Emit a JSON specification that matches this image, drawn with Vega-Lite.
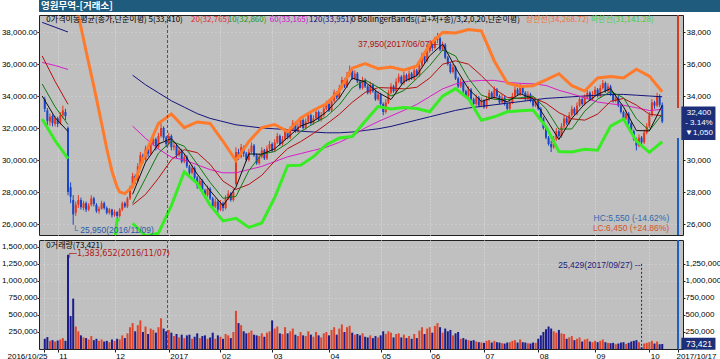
{
"$schema": "https://vega.github.io/schema/vega-lite/v6.json",
"padding": 0,
"background": "#ffffff",
"spacing": 1,
"config": {"view": {"stroke": null}, "font": "Liberation Sans", "axis": {"labelFont": "Liberation Sans", "labelColor": "#000000", "domainColor": "#202020", "tickColor": "#202020"}},
"datasets": {
"c": [
{"i":0,"o":33800,"h":33950,"l":33000,"c":33200,"v":150000},
{"i":1,"o":33100,"h":33250,"l":32200,"c":32450,"v":175000},
{"i":2,"o":32400,"h":32900,"l":32150,"c":32700,"v":120000},
{"i":3,"o":32750,"h":32850,"l":32100,"c":32300,"v":130000},
{"i":4,"o":32250,"h":32750,"l":32100,"c":32600,"v":110000},
{"i":5,"o":32600,"h":32700,"l":32050,"c":32250,"v":125000},
{"i":6,"o":32300,"h":33000,"l":32200,"c":32800,"v":140000},
{"i":7,"o":32800,"h":33400,"l":32600,"c":33100,"v":160000},
{"i":8,"o":33000,"h":33200,"l":32500,"c":32750,"v":120000},
{"i":9,"o":32000,"h":32100,"l":27800,"c":28000,"v":1383652},
{"i":10,"o":28300,"h":28600,"l":27300,"c":27700,"v":485000},
{"i":11,"o":27500,"h":27800,"l":25950,"c":26600,"v":740000},
{"i":12,"o":26700,"h":27400,"l":26500,"c":27200,"v":330000},
{"i":13,"o":27200,"h":27800,"l":27000,"c":27500,"v":260000},
{"i":14,"o":27500,"h":27650,"l":26900,"c":27050,"v":200000},
{"i":15,"o":27000,"h":27450,"l":26850,"c":27300,"v":170000},
{"i":16,"o":27300,"h":27400,"l":26750,"c":26900,"v":160000},
{"i":17,"o":26900,"h":27300,"l":26800,"c":27150,"v":140000},
{"i":18,"o":27200,"h":27800,"l":27100,"c":27600,"v":190000},
{"i":19,"o":27600,"h":27700,"l":27100,"c":27250,"v":130000},
{"i":20,"o":27200,"h":27300,"l":26700,"c":26800,"v":150000},
{"i":21,"o":26800,"h":27100,"l":26650,"c":26950,"v":120000},
{"i":22,"o":26950,"h":27450,"l":26900,"c":27300,"v":140000},
{"i":23,"o":27300,"h":27400,"l":26900,"c":27000,"v":110000},
{"i":24,"o":27000,"h":27100,"l":26600,"c":26700,"v":120000},
{"i":25,"o":26700,"h":27000,"l":26600,"c":26900,"v":100000},
{"i":26,"o":26900,"h":26950,"l":26400,"c":26550,"v":140000},
{"i":27,"o":26550,"h":26900,"l":26450,"c":26750,"v":120000},
{"i":28,"o":26750,"h":26800,"l":26250,"c":26500,"v":150000},
{"i":29,"o":26500,"h":27000,"l":26400,"c":26900,"v":140000},
{"i":30,"o":26900,"h":27400,"l":26800,"c":27300,"v":200000},
{"i":31,"o":27300,"h":27400,"l":27000,"c":27100,"v":160000},
{"i":32,"o":27100,"h":27700,"l":27000,"c":27600,"v":230000},
{"i":33,"o":27600,"h":28400,"l":27500,"c":28300,"v":320000},
{"i":34,"o":28300,"h":29200,"l":28200,"c":29000,"v":380000},
{"i":35,"o":29000,"h":29100,"l":28500,"c":28700,"v":260000},
{"i":36,"o":28700,"h":29800,"l":28600,"c":29600,"v":350000},
{"i":37,"o":29600,"h":30500,"l":29500,"c":30300,"v":420000},
{"i":38,"o":30300,"h":30400,"l":29800,"c":30000,"v":250000},
{"i":39,"o":30000,"h":30900,"l":29900,"c":30700,"v":330000},
{"i":40,"o":30700,"h":30800,"l":30200,"c":30400,"v":220000},
{"i":41,"o":30400,"h":31200,"l":30300,"c":31000,"v":300000},
{"i":42,"o":31000,"h":31500,"l":30900,"c":31300,"v":280000},
{"i":43,"o":31300,"h":31400,"l":30600,"c":30800,"v":240000},
{"i":44,"o":30800,"h":31700,"l":30700,"c":31500,"v":320000},
{"i":45,"o":31500,"h":32300,"l":31400,"c":32000,"v":450000},
{"i":46,"o":32000,"h":32100,"l":31200,"c":31400,"v":300000},
{"i":47,"o":31400,"h":31500,"l":30800,"c":31000,"v":260000},
{"i":48,"o":31000,"h":31700,"l":30900,"c":31500,"v":280000},
{"i":49,"o":31500,"h":31600,"l":30600,"c":30800,"v":240000},
{"i":50,"o":30800,"h":31100,"l":30600,"c":30900,"v":190000},
{"i":51,"o":30900,"h":31000,"l":30100,"c":30300,"v":220000},
{"i":52,"o":30300,"h":30800,"l":30200,"c":30600,"v":170000},
{"i":53,"o":30600,"h":30700,"l":29800,"c":29900,"v":210000},
{"i":54,"o":29900,"h":30400,"l":29800,"c":30200,"v":160000},
{"i":55,"o":30200,"h":30300,"l":29500,"c":29600,"v":200000},
{"i":56,"o":29600,"h":29700,"l":29000,"c":29200,"v":210000},
{"i":57,"o":29200,"h":29700,"l":29100,"c":29500,"v":150000},
{"i":58,"o":29500,"h":29600,"l":28800,"c":28900,"v":180000},
{"i":59,"o":28900,"h":29000,"l":28200,"c":28400,"v":230000},
{"i":60,"o":28400,"h":28900,"l":28300,"c":28700,"v":160000},
{"i":61,"o":28700,"h":28800,"l":28000,"c":28100,"v":190000},
{"i":62,"o":28100,"h":28200,"l":27600,"c":27800,"v":200000},
{"i":63,"o":27800,"h":28400,"l":27700,"c":28200,"v":150000},
{"i":64,"o":28200,"h":28300,"l":27500,"c":27600,"v":170000},
{"i":65,"o":27600,"h":27700,"l":26900,"c":27100,"v":240000},
{"i":66,"o":27100,"h":27600,"l":27000,"c":27400,"v":150000},
{"i":67,"o":27400,"h":27500,"l":26700,"c":26900,"v":200000},
{"i":68,"o":26900,"h":27500,"l":26800,"c":27300,"v":180000},
{"i":69,"o":27300,"h":27400,"l":26800,"c":27000,"v":150000},
{"i":70,"o":27000,"h":27800,"l":26900,"c":27600,"v":220000},
{"i":71,"o":27600,"h":28100,"l":27500,"c":27900,"v":200000},
{"i":72,"o":27900,"h":28000,"l":27400,"c":27500,"v":160000},
{"i":73,"o":27500,"h":28200,"l":27400,"c":28000,"v":250000},
{"i":74,"o":28500,"h":30800,"l":28400,"c":30500,"v":560000},
{"i":75,"o":30500,"h":30700,"l":30000,"c":30200,"v":380000},
{"i":76,"o":30200,"h":31000,"l":30100,"c":30800,"v":350000},
{"i":77,"o":30800,"h":30900,"l":30200,"c":30400,"v":260000},
{"i":78,"o":30400,"h":30500,"l":29900,"c":30000,"v":230000},
{"i":79,"o":30000,"h":30700,"l":29900,"c":30500,"v":240000},
{"i":80,"o":30500,"h":31100,"l":30400,"c":30900,"v":270000},
{"i":81,"o":30900,"h":31000,"l":30200,"c":30300,"v":210000},
{"i":82,"o":30300,"h":30400,"l":29700,"c":29800,"v":200000},
{"i":83,"o":29800,"h":30400,"l":29700,"c":30200,"v":190000},
{"i":84,"o":30200,"h":30800,"l":30100,"c":30600,"v":230000},
{"i":85,"o":30600,"h":30700,"l":30000,"c":30100,"v":180000},
{"i":86,"o":30100,"h":30900,"l":30000,"c":30700,"v":240000},
{"i":87,"o":30700,"h":31200,"l":30600,"c":31000,"v":260000},
{"i":88,"o":31000,"h":31100,"l":30500,"c":30600,"v":420000},
{"i":89,"o":30600,"h":31300,"l":30500,"c":31100,"v":300000},
{"i":90,"o":31100,"h":31700,"l":31000,"c":31500,"v":330000},
{"i":91,"o":31500,"h":31600,"l":30900,"c":31000,"v":230000},
{"i":92,"o":31000,"h":31500,"l":30900,"c":31300,"v":220000},
{"i":93,"o":31300,"h":32000,"l":31200,"c":31800,"v":320000},
{"i":94,"o":31800,"h":31900,"l":31300,"c":31400,"v":230000},
{"i":95,"o":31400,"h":32100,"l":31300,"c":31900,"v":260000},
{"i":96,"o":31900,"h":32500,"l":31800,"c":32300,"v":300000},
{"i":97,"o":32300,"h":32400,"l":31700,"c":31800,"v":210000},
{"i":98,"o":31800,"h":32300,"l":31700,"c":32100,"v":190000},
{"i":99,"o":32100,"h":32700,"l":32000,"c":32500,"v":250000},
{"i":100,"o":32500,"h":32600,"l":31900,"c":32000,"v":200000},
{"i":101,"o":32000,"h":32600,"l":31900,"c":32400,"v":190000},
{"i":102,"o":32400,"h":33000,"l":32300,"c":32800,"v":260000},
{"i":103,"o":32800,"h":32900,"l":32200,"c":32300,"v":210000},
{"i":104,"o":32300,"h":32800,"l":32200,"c":32600,"v":180000},
{"i":105,"o":32600,"h":33200,"l":32500,"c":33000,"v":250000},
{"i":106,"o":33000,"h":33100,"l":32400,"c":32500,"v":200000},
{"i":107,"o":32500,"h":33000,"l":32400,"c":32800,"v":170000},
{"i":108,"o":32800,"h":33400,"l":32700,"c":33200,"v":230000},
{"i":109,"o":33200,"h":33700,"l":33100,"c":33500,"v":250000},
{"i":110,"o":33500,"h":33600,"l":33000,"c":33100,"v":200000},
{"i":111,"o":33100,"h":33900,"l":33000,"c":33700,"v":280000},
{"i":112,"o":33700,"h":34400,"l":33600,"c":34200,"v":320000},
{"i":113,"o":34200,"h":34300,"l":33800,"c":33900,"v":210000},
{"i":114,"o":33900,"h":34700,"l":33800,"c":34500,"v":300000},
{"i":115,"o":34500,"h":35200,"l":34400,"c":35000,"v":360000},
{"i":116,"o":35000,"h":35100,"l":34500,"c":34600,"v":250000},
{"i":117,"o":34600,"h":35500,"l":34500,"c":35300,"v":320000},
{"i":118,"o":35300,"h":35900,"l":35200,"c":35600,"v":340000},
{"i":119,"o":35600,"h":35700,"l":35000,"c":35100,"v":240000},
{"i":120,"o":35100,"h":35600,"l":35000,"c":35400,"v":210000},
{"i":121,"o":35400,"h":35500,"l":34800,"c":34900,"v":220000},
{"i":122,"o":34900,"h":35000,"l":34400,"c":34500,"v":200000},
{"i":123,"o":34500,"h":35200,"l":34400,"c":35000,"v":230000},
{"i":124,"o":35000,"h":35100,"l":34500,"c":34600,"v":180000},
{"i":125,"o":34600,"h":34700,"l":34100,"c":34200,"v":170000},
{"i":126,"o":34200,"h":34900,"l":34100,"c":34700,"v":200000},
{"i":127,"o":34700,"h":34800,"l":34200,"c":34300,"v":160000},
{"i":128,"o":34300,"h":34400,"l":33700,"c":33800,"v":190000},
{"i":129,"o":33800,"h":34300,"l":33700,"c":34100,"v":170000},
{"i":130,"o":34100,"h":34200,"l":33400,"c":33500,"v":200000},
{"i":131,"o":33500,"h":33600,"l":32800,"c":33000,"v":260000},
{"i":132,"o":33000,"h":33800,"l":32900,"c":33600,"v":220000},
{"i":133,"o":33600,"h":34400,"l":33500,"c":34200,"v":260000},
{"i":134,"o":34200,"h":34800,"l":34100,"c":34600,"v":240000},
{"i":135,"o":34600,"h":34700,"l":34200,"c":34300,"v":170000},
{"i":136,"o":34300,"h":35100,"l":34200,"c":34900,"v":220000},
{"i":137,"o":34900,"h":35400,"l":34800,"c":35200,"v":230000},
{"i":138,"o":35200,"h":35300,"l":34700,"c":34800,"v":170000},
{"i":139,"o":34800,"h":35500,"l":34700,"c":35300,"v":210000},
{"i":140,"o":35300,"h":35400,"l":34900,"c":35000,"v":160000},
{"i":141,"o":35000,"h":35600,"l":34900,"c":35400,"v":190000},
{"i":142,"o":35400,"h":35500,"l":35000,"c":35100,"v":150000},
{"i":143,"o":35100,"h":35800,"l":35000,"c":35600,"v":220000},
{"i":144,"o":35600,"h":35700,"l":35200,"c":35300,"v":160000},
{"i":145,"o":35300,"h":36100,"l":35200,"c":35900,"v":270000},
{"i":146,"o":35900,"h":36700,"l":35800,"c":36500,"v":320000},
{"i":147,"o":36500,"h":36600,"l":36000,"c":36200,"v":220000},
{"i":148,"o":36200,"h":37000,"l":36100,"c":36800,"v":300000},
{"i":149,"o":36800,"h":37400,"l":36700,"c":37200,"v":320000},
{"i":150,"o":37200,"h":37300,"l":36800,"c":37000,"v":240000},
{"i":151,"o":37000,"h":37700,"l":36900,"c":37500,"v":340000},
{"i":152,"o":37500,"h":37950,"l":37300,"c":37600,"v":380000},
{"i":153,"o":37600,"h":37700,"l":36800,"c":36900,"v":320000},
{"i":154,"o":36900,"h":37400,"l":36800,"c":37200,"v":240000},
{"i":155,"o":37200,"h":37300,"l":36300,"c":36400,"v":300000},
{"i":156,"o":36400,"h":36500,"l":35900,"c":36000,"v":260000},
{"i":157,"o":36000,"h":36100,"l":35400,"c":35500,"v":280000},
{"i":158,"o":35500,"h":36000,"l":35400,"c":35800,"v":200000},
{"i":159,"o":35800,"h":35900,"l":35000,"c":35100,"v":230000},
{"i":160,"o":35100,"h":35200,"l":34500,"c":34600,"v":250000},
{"i":161,"o":34600,"h":35100,"l":34500,"c":34900,"v":150000},
{"i":162,"o":34900,"h":35000,"l":34200,"c":34300,"v":160000},
{"i":163,"o":34300,"h":34400,"l":33900,"c":34000,"v":140000},
{"i":164,"o":34000,"h":34600,"l":33900,"c":34400,"v":130000},
{"i":165,"o":34400,"h":34500,"l":33700,"c":33800,"v":120000},
{"i":166,"o":33800,"h":33900,"l":33400,"c":33500,"v":130000},
{"i":167,"o":33500,"h":34100,"l":33400,"c":33900,"v":110000},
{"i":168,"o":33900,"h":34000,"l":33300,"c":33400,"v":100000},
{"i":169,"o":33400,"h":33900,"l":33300,"c":33700,"v":95000},
{"i":170,"o":33700,"h":33800,"l":33200,"c":33300,"v":90000},
{"i":171,"o":33300,"h":34000,"l":33200,"c":33800,"v":120000},
{"i":172,"o":33800,"h":34400,"l":33700,"c":34200,"v":130000},
{"i":173,"o":34200,"h":34300,"l":33800,"c":33900,"v":95000},
{"i":174,"o":33900,"h":34600,"l":33800,"c":34400,"v":120000},
{"i":175,"o":34400,"h":34500,"l":33900,"c":34000,"v":100000},
{"i":176,"o":34000,"h":34100,"l":33500,"c":33600,"v":95000},
{"i":177,"o":33600,"h":34100,"l":33500,"c":33900,"v":85000},
{"i":178,"o":33900,"h":34000,"l":33400,"c":33500,"v":80000},
{"i":179,"o":33500,"h":33600,"l":33100,"c":33200,"v":95000},
{"i":180,"o":33200,"h":33800,"l":33100,"c":33600,"v":100000},
{"i":181,"o":33600,"h":34200,"l":33500,"c":34000,"v":120000},
{"i":182,"o":34000,"h":34600,"l":33900,"c":34400,"v":130000},
{"i":183,"o":34400,"h":34500,"l":34000,"c":34100,"v":95000},
{"i":184,"o":34100,"h":34800,"l":34000,"c":34600,"v":140000},
{"i":185,"o":34600,"h":34700,"l":34100,"c":34200,"v":100000},
{"i":186,"o":34200,"h":34300,"l":33700,"c":33800,"v":95000},
{"i":187,"o":33800,"h":34300,"l":33700,"c":34100,"v":85000},
{"i":188,"o":34100,"h":34200,"l":33600,"c":33700,"v":80000},
{"i":189,"o":33700,"h":33800,"l":33300,"c":33400,"v":95000},
{"i":190,"o":33400,"h":33900,"l":33300,"c":33700,"v":90000},
{"i":191,"o":33700,"h":33800,"l":33100,"c":33200,"v":150000},
{"i":192,"o":33200,"h":33300,"l":32500,"c":32600,"v":200000},
{"i":193,"o":32600,"h":32700,"l":31900,"c":32000,"v":250000},
{"i":194,"o":32000,"h":32100,"l":31300,"c":31400,"v":290000},
{"i":195,"o":31400,"h":31500,"l":30900,"c":31000,"v":330000},
{"i":196,"o":31000,"h":31200,"l":30500,"c":30800,"v":300000},
{"i":197,"o":30800,"h":31500,"l":30700,"c":31300,"v":260000},
{"i":198,"o":31300,"h":32000,"l":31200,"c":31800,"v":240000},
{"i":199,"o":31800,"h":31900,"l":31400,"c":31500,"v":280000},
{"i":200,"o":31500,"h":32300,"l":31400,"c":32100,"v":230000},
{"i":201,"o":32100,"h":32800,"l":32000,"c":32600,"v":220000},
{"i":202,"o":32600,"h":32700,"l":32200,"c":32300,"v":150000},
{"i":203,"o":32300,"h":33000,"l":32200,"c":32800,"v":170000},
{"i":204,"o":32800,"h":33400,"l":32700,"c":33200,"v":190000},
{"i":205,"o":33200,"h":33300,"l":32800,"c":32900,"v":130000},
{"i":206,"o":32900,"h":33600,"l":32800,"c":33400,"v":150000},
{"i":207,"o":33400,"h":34000,"l":33300,"c":33800,"v":170000},
{"i":208,"o":33800,"h":33900,"l":33400,"c":33500,"v":110000},
{"i":209,"o":33500,"h":34100,"l":33400,"c":33900,"v":140000},
{"i":210,"o":33900,"h":34400,"l":33800,"c":34200,"v":150000},
{"i":211,"o":34200,"h":34300,"l":33700,"c":33800,"v":110000},
{"i":212,"o":33800,"h":34300,"l":33700,"c":34100,"v":100000},
{"i":213,"o":34100,"h":34600,"l":34000,"c":34400,"v":120000},
{"i":214,"o":34400,"h":34500,"l":33900,"c":34000,"v":100000},
{"i":215,"o":34000,"h":34700,"l":33900,"c":34500,"v":120000},
{"i":216,"o":34500,"h":35000,"l":34400,"c":34800,"v":140000},
{"i":217,"o":34800,"h":34900,"l":34200,"c":34300,"v":100000},
{"i":218,"o":34300,"h":34800,"l":34200,"c":34600,"v":90000},
{"i":219,"o":34600,"h":34700,"l":34000,"c":34100,"v":85000},
{"i":220,"o":34100,"h":34200,"l":33600,"c":33700,"v":90000},
{"i":221,"o":33700,"h":34100,"l":33600,"c":33900,"v":70000},
{"i":222,"o":33900,"h":34000,"l":33300,"c":33400,"v":80000},
{"i":223,"o":33400,"h":33500,"l":32900,"c":33000,"v":95000},
{"i":224,"o":33000,"h":33100,"l":32500,"c":32600,"v":100000},
{"i":225,"o":32600,"h":33100,"l":32500,"c":32900,"v":75000},
{"i":226,"o":32900,"h":33000,"l":32200,"c":32300,"v":90000},
{"i":227,"o":32300,"h":32400,"l":31700,"c":31800,"v":110000},
{"i":228,"o":31800,"h":31900,"l":31200,"c":31300,"v":120000},
{"i":229,"o":31300,"h":31400,"l":30600,"c":30900,"v":130000},
{"i":230,"o":30900,"h":31600,"l":30800,"c":31400,"v":100000},
{"i":231,"o":31400,"h":31500,"l":31000,"c":31100,"v":25429},
{"i":232,"o":31100,"h":31900,"l":31000,"c":31700,"v":80000},
{"i":233,"o":31700,"h":32300,"l":31600,"c":32100,"v":90000},
{"i":234,"o":32100,"h":33000,"l":32000,"c":32800,"v":100000},
{"i":235,"o":32800,"h":33800,"l":32700,"c":33600,"v":120000},
{"i":236,"o":33600,"h":33700,"l":33200,"c":33400,"v":80000},
{"i":237,"o":33400,"h":34200,"l":33300,"c":34000,"v":110000},
{"i":238,"o":34000,"h":34100,"l":33300,"c":33450,"v":70000},
{"i":239,"o":33450,"h":33600,"l":32300,"c":32400,"v":73421}
],
"m": [
{"i":-1,"m5":34000,"m10":34750,"m20":36500,"m60":36100,"m120":38600,"bu":41500,"bl":32560},
{"i":4,"m5":32650,"m10":33325,"m20":34913,"m60":35904,"m120":38300,"bu":40800,"bl":31213},
{"i":9,"m5":31780,"m10":32215,"m20":33483,"m60":35661,"m120":38000,"bu":40000,"bl":30083},
{"i":13,"bu":39000},
{"i":14,"m5":27210,"m10":29495,"m20":31410,"m60":35053,"m120":37600,"bu":38300,"bl":25970},
{"i":16,"bu":36800},
{"i":19,"m5":27240,"m10":27225,"m20":29720,"m60":34448,"m120":37100,"bu":34600,"bl":24340},
{"i":22,"bu":32300},
{"i":24,"m5":26950,"m10":27095,"m20":28295,"m60":33778,"m120":36500,"bu":30700,"bl":23740},
{"i":25,"bu":30000,"bl":23850},
{"i":26,"bu":29300,"bl":24110},
{"i":27,"bu":28800,"bl":24840},
{"i":28,"bu":28300,"bl":26270},
{"i":29,"m5":26720,"m10":26835,"m20":27030,"m60":32963,"m120":35900,"bu":28000,"bl":26270},
{"i":31,"bu":27900},
{"i":34,"m5":27860,"m10":27290,"m20":27193,"m60":32118,"m120":35300,"bu":28340,"bl":26040},
{"i":39,"m5":29860,"m10":28860,"m20":27848,"m60":31356,"m120":34700,"bu":30440,"bl":25256},
{"i":44,"m5":31000,"m10":30430,"m20":28860,"m60":30689,"m120":34200,"bu":32290,"bl":25430},
{"i":49,"m5":31340,"m10":31170,"m20":30015,"m60":30176,"m120":33700,"bu":32880,"bl":27150},
{"i":54,"m5":30380,"m10":30860,"m20":30645,"m60":30000,"m120":33300,"bu":32025,"bl":29265},
{"i":59,"m5":29120,"m10":29750,"m20":30460,"m60":29700,"m120":32900,"bu":32378,"bl":28542},
{"i":64,"m5":28080,"m10":28600,"m20":29730,"m60":29400,"m120":32600,"bu":32284,"bl":27176},
{"i":69,"m5":27140,"m10":27610,"m20":28680,"m60":29200,"m120":32400,"bu":31170,"bl":26190},
{"i":74,"m5":28300,"m10":27720,"m20":28160,"m60":29200,"m120":32200,"bu":29960,"bl":26360},
{"i":79,"m5":30380,"m10":29340,"m20":28475,"m60":29400,"m120":32100,"bu":31160,"bl":25790},
{"i":84,"m5":30360,"m10":30370,"m20":29045,"m60":29600,"m120":32000,"bu":32030,"bl":26060},
{"i":89,"m5":30700,"m10":30530,"m20":29935,"m60":29900,"m120":31950,"bu":32215,"bl":27655},
{"i":94,"m5":31400,"m10":31050,"m20":30710,"m60":30200,"m120":31900,"bu":31770,"bl":29650},
{"i":99,"m5":32120,"m10":31760,"m20":31145,"m60":30400,"m120":31800,"bu":32615,"bl":29675},
{"i":104,"m5":32420,"m10":32270,"m20":31660,"m60":30600,"m120":31750,"bu":33110,"bl":30210},
{"i":109,"m5":33000,"m10":32710,"m20":32235,"m60":30800,"m120":31700,"bu":33515,"bl":30955},
{"i":114,"m5":33880,"m10":33440,"m20":32855,"m60":31100,"m120":31700,"bu":34340,"bl":31370},
{"i":119,"m5":35120,"m10":34500,"m20":33605,"m60":31500,"m120":31750,"bu":35740,"bl":31470},
{"i":124,"m5":34880,"m10":35000,"m20":34220,"m60":32000,"m120":31850,"bu":36020,"bl":32420},
{"i":129,"m5":34220,"m10":34550,"m20":34525,"m60":32400,"m120":31950,"bu":35705,"bl":33345},
{"i":134,"m5":33780,"m10":34000,"m20":34500,"m60":32750,"m120":32100,"bu":35810,"bl":33190},
{"i":139,"m5":34900,"m10":34340,"m20":34445,"m60":33100,"m120":32300,"bu":35615,"bl":33275},
{"i":144,"m5":35280,"m10":35090,"m20":34545,"m60":33475,"m120":32500,"bu":35875,"bl":33215},
{"i":149,"m5":36520,"m10":35900,"m20":35120,"m60":33960,"m120":32700,"bu":37226,"bl":33014},
{"i":154,"m5":37240,"m10":36880,"m20":35985,"m60":34447,"m120":32900,"bu":37975,"bl":33995},
{"i":159,"m5":35760,"m10":36500,"m20":36200,"m60":34750,"m120":33100,"bu":37940,"bl":34460},
{"i":164,"m5":34440,"m10":35100,"m20":35990,"m60":34918,"m120":33250,"bu":38155,"bl":33825},
{"i":169,"m5":33660,"m10":34050,"m20":35275,"m60":34973,"m120":33350,"bu":38067,"bl":32483},
{"i":174,"m5":33920,"m10":33790,"m20":34445,"m60":34977,"m120":33450,"bu":36190,"bl":32700},
{"i":179,"m5":33640,"m10":33780,"m20":33915,"m60":34853,"m120":33550,"bu":34815,"bl":33015},
{"i":184,"m5":34140,"m10":33890,"m20":33840,"m60":34792,"m120":33650,"bu":34600,"bl":33080},
{"i":189,"m5":33840,"m10":33990,"m20":33885,"m60":34760,"m120":33750,"bu":34645,"bl":33125},
{"i":194,"m5":32580,"m10":33210,"m20":33550,"m60":34660,"m120":33850,"bu":35005,"bl":32095},
{"i":199,"m5":31280,"m10":31930,"m20":32960,"m60":34358,"m120":33900,"bu":35395,"bl":30525},
{"i":204,"m5":32600,"m10":31940,"m20":32575,"m60":34135,"m120":33950,"bu":34645,"bl":30505},
{"i":209,"m5":33500,"m10":33050,"m20":32490,"m60":33883,"m120":34000,"bu":34310,"bl":30670},
{"i":214,"m5":34100,"m10":33800,"m20":32870,"m60":33622,"m120":34050,"bu":35130,"bl":30610},
{"i":219,"m5":34460,"m10":34280,"m20":33665,"m60":33513,"m120":34100,"bu":35215,"bl":32115},
{"i":224,"m5":33320,"m10":33890,"m20":33845,"m60":33420,"m120":34100,"bu":35125,"bl":32565},
{"i":229,"m5":31840,"m10":32580,"m20":33430,"m60":33268,"m120":34050,"bu":35674,"bl":31186},
{"i":234,"m5":31820,"m10":31830,"m20":32860,"m60":33093,"m120":34000,"bu":35244,"bl":30476},
{"i":239,"m5":33410,"m10":32860,"m20":32765,"m60":33165,"m120":33951,"bu":34269,"bl":31141}
]
},
"vconcat": [
{
"width": 720, "height": 12,
"view": {"fill": "#1f5b7d", "stroke": null},
"data": {"values": [{"p": "L", "t": "영원무역-[거래소]"}, {"p": "R", "t": "(1일)"}]},
"layer": [
{"transform": [{"filter": "datum.p == 'L'"}], "mark": {"type": "text", "align": "left", "baseline": "middle", "color": "#ffffff", "font": "Noto Sans CJK KR", "fontSize": 9.5, "fontWeight": "bold"},
 "encoding": {"x": {"field": "p", "type": "nominal", "scale": {"type": "point", "domain": ["L", "R"], "range": [2, 715], "padding": 0}, "axis": null}, "text": {"field": "t"}}},
{"transform": [{"filter": "datum.p == 'R'"}], "mark": {"type": "text", "align": "right", "baseline": "middle", "color": "#ffffff", "font": "Noto Sans CJK KR", "fontSize": 9.5, "fontWeight": "bold"},
 "encoding": {"x": {"field": "p", "type": "nominal", "scale": {"type": "point", "domain": ["L", "R"], "range": [2, 715], "padding": 0}, "axis": null}, "text": {"field": "t"}}}
]
},
{
"width": 644, "height": 220,
"view": {"fill": "#c0c0c0", "stroke": "#202020"},
"resolve": {"axis": {"y": "independent"}},
"layer": [
{"data": {"name": "c"}, "mark": {"type": "rule", "strokeWidth": 1},
 "encoding": {
  "x": {"field": "i", "type": "quantitative", "scale": {"domain": [-0.3, 245.1], "nice": false, "zero": false},
        "axis": {"values": [5, 27, 48, 68, 88, 110, 130, 149, 170, 191, 213, 234], "labels": false, "ticks": false, "domain": false, "grid": true, "gridColor": "#dedede", "gridDash": [1, 2], "title": null}},
  "y": {"field": "l", "type": "quantitative", "scale": {"domain": [25312.5, 39062.5], "nice": false, "zero": false},
        "axis": {"orient": "left", "values": [26000, 28000, 30000, 32000, 34000, 36000, 38000], "format": ",.2f", "title": null, "labelFontSize": 8, "tickSize": 2, "labelPadding": 0, "grid": true, "gridColor": "#d6d6d6", "gridDash": [1, 3], "domain": false}},
  "y2": {"field": "h"},
  "color": {"condition": {"test": "datum.c >= datum.o", "value": "#e8361c"}, "value": "#1846c8"}
 }},
{"data": {"name": "c"}, "mark": {"type": "bar", "size": 2},
 "encoding": {
  "x": {"field": "i", "type": "quantitative"},
  "y": {"field": "o", "type": "quantitative", "axis": {"orient": "right", "values": [26000, 28000, 30000, 32000, 34000, 36000, 38000], "format": ",.0f", "title": null, "labelFontSize": 8, "tickSize": 2, "labelPadding": 1, "grid": false, "domain": false}},
  "y2": {"field": "c"},
  "color": {"condition": {"test": "datum.c >= datum.o", "value": "#e8361c"}, "value": "#1846c8"}
 }},
{"data": {"name": "m"}, "mark": {"type": "line", "clip": true, "strokeWidth": 1, "color": "#14147e"}, "encoding": {"x": {"field": "i", "type": "quantitative"}, "y": {"field": "m120", "type": "quantitative", "axis": null}}},
{"data": {"name": "m"}, "mark": {"type": "line", "clip": true, "strokeWidth": 1, "color": "#d81ec8"}, "encoding": {"x": {"field": "i", "type": "quantitative"}, "y": {"field": "m60", "type": "quantitative", "axis": null}}},
{"data": {"name": "m"}, "mark": {"type": "line", "clip": true, "strokeWidth": 1, "color": "#b81010"}, "encoding": {"x": {"field": "i", "type": "quantitative"}, "y": {"field": "m20", "type": "quantitative", "axis": null}}},
{"data": {"name": "m"}, "mark": {"type": "line", "clip": true, "strokeWidth": 1, "color": "#107a10"}, "encoding": {"x": {"field": "i", "type": "quantitative"}, "y": {"field": "m10", "type": "quantitative", "axis": null}}},
{"data": {"name": "m"}, "mark": {"type": "line", "clip": true, "strokeWidth": 1, "color": "#101010"}, "encoding": {"x": {"field": "i", "type": "quantitative"}, "y": {"field": "m5", "type": "quantitative", "axis": null}}},
{"data": {"name": "m"}, "mark": {"type": "line", "clip": true, "strokeWidth": 3, "color": "#ff7a2a"}, "encoding": {"x": {"field": "i", "type": "quantitative"}, "y": {"field": "bu", "type": "quantitative", "axis": null}}},
{"data": {"name": "m"}, "mark": {"type": "line", "clip": true, "strokeWidth": 3, "color": "#38ec24"}, "encoding": {"x": {"field": "i", "type": "quantitative"}, "y": {"field": "bl", "type": "quantitative", "axis": null}}},
{"data": {"values": [{}]}, "mark": {"type": "rule", "color": "#d02020", "strokeDash": [3, 2], "strokeWidth": 1}, "encoding": {"x": {"datum": 47.5, "type": "quantitative"}}},
{"data": {"values": [{}]}, "mark": {"type": "rule", "color": "#d04020", "strokeWidth": 2}, "encoding": {"x": {"datum": 245.1, "type": "quantitative"}, "y": {"datum": 39062.5, "type": "quantitative", "axis": null}, "y2": {"datum": 33250}}},
{"data": {"values": [{}]}, "mark": {"type": "rule", "color": "#2060c0", "strokeWidth": 2}, "encoding": {"x": {"datum": 245.1, "type": "quantitative"}, "y": {"datum": 31375, "type": "quantitative", "axis": null}, "y2": {"datum": 25312.5}}},
{"data": {"values": [{}]}, "mark": {"type": "text", "text": "0가격이동평균(종가,단순이평) 5(33,410)", "align": "left", "baseline": "top", "font": "Noto Sans CJK KR", "fontSize": 8, "color": "#000000"}, "encoding": {"x": {"datum": 0.6, "type": "quantitative"}, "y": {"datum": 38990, "type": "quantitative", "axis": null}}},
{"data": {"values": [{}]}, "mark": {"type": "text", "text": "20(32,765)", "align": "left", "baseline": "top", "font": "Noto Sans CJK KR", "fontSize": 8, "color": "#e03030"}, "encoding": {"x": {"datum": 56.6, "type": "quantitative"}, "y": {"datum": 38990, "type": "quantitative", "axis": null}}},
{"data": {"values": [{}]}, "mark": {"type": "text", "text": "10(32,860)", "align": "left", "baseline": "top", "font": "Noto Sans CJK KR", "fontSize": 8, "color": "#1a9a1a"}, "encoding": {"x": {"datum": 70.8, "type": "quantitative"}, "y": {"datum": 38990, "type": "quantitative", "axis": null}}},
{"data": {"values": [{}]}, "mark": {"type": "text", "text": "60(33,165)", "align": "left", "baseline": "top", "font": "Noto Sans CJK KR", "fontSize": 8, "color": "#d010d0"}, "encoding": {"x": {"datum": 87.1, "type": "quantitative"}, "y": {"datum": 38990, "type": "quantitative", "axis": null}}},
{"data": {"values": [{}]}, "mark": {"type": "text", "text": "120(33,951)", "align": "left", "baseline": "top", "font": "Noto Sans CJK KR", "fontSize": 8, "color": "#101080"}, "encoding": {"x": {"datum": 102.3, "type": "quantitative"}, "y": {"datum": 38990, "type": "quantitative", "axis": null}}},
{"data": {"values": [{}]}, "mark": {"type": "text", "text": "0 BollingerBands((고+저+종)/3,2,0,20,단순이평)", "align": "left", "baseline": "top", "font": "Noto Sans CJK KR", "fontSize": 8, "color": "#000000"}, "encoding": {"x": {"datum": 118.6, "type": "quantitative"}, "y": {"datum": 38990, "type": "quantitative", "axis": null}}},
{"data": {"values": [{}]}, "mark": {"type": "text", "text": "상한선(34,268.72)", "align": "left", "baseline": "top", "font": "Noto Sans CJK KR", "fontSize": 8, "color": "#f07040"}, "encoding": {"x": {"datum": 186.2, "type": "quantitative"}, "y": {"datum": 38990, "type": "quantitative", "axis": null}}},
{"data": {"values": [{}]}, "mark": {"type": "text", "text": "하한선(31,141.28)", "align": "left", "baseline": "top", "font": "Noto Sans CJK KR", "fontSize": 8, "color": "#40d040"}, "encoding": {"x": {"datum": 211.3, "type": "quantitative"}, "y": {"datum": 38990, "type": "quantitative", "axis": null}}},
{"data": {"values": [{}]}, "mark": {"type": "text", "text": "37,950(2017/06/07)─", "align": "right", "baseline": "middle", "font": "Liberation Sans", "fontSize": 8.5, "color": "#b01010"}, "encoding": {"x": {"datum": 152.3, "type": "quantitative"}, "y": {"datum": 37250, "type": "quantitative", "axis": null}}},
{"data": {"values": [{}]}, "mark": {"type": "text", "text": "└ 25,950(2016/11/09)", "align": "left", "baseline": "middle", "font": "Liberation Sans", "fontSize": 8.5, "color": "#2a5aa8"}, "encoding": {"x": {"datum": 10.5, "type": "quantitative"}, "y": {"datum": 25625, "type": "quantitative", "axis": null}}},
{"data": {"values": [{}]}, "mark": {"type": "text", "text": "HC:5,550 (-14.62%)", "align": "right", "baseline": "middle", "font": "Liberation Sans", "fontSize": 8.5, "color": "#3068b0"}, "encoding": {"x": {"datum": 241.7, "type": "quantitative"}, "y": {"datum": 26375, "type": "quantitative", "axis": null}}},
{"data": {"values": [{}]}, "mark": {"type": "text", "text": "LC:6,450 (+24.86%)", "align": "right", "baseline": "middle", "font": "Liberation Sans", "fontSize": 8.5, "color": "#d8502a"}, "encoding": {"x": {"datum": 241.7, "type": "quantitative"}, "y": {"datum": 25750, "type": "quantitative", "axis": null}}},
{"data": {"values": [{}]}, "mark": {"type": "rect", "color": "#1c2f78"}, "encoding": {"x": {"datum": 246.4, "type": "quantitative"}, "x2": {"datum": 259.6}, "y": {"datum": 33350, "type": "quantitative", "axis": null}, "y2": {"datum": 31250}}},
{"data": {"values": [{}]}, "mark": {"type": "text", "text": "32,400", "align": "center", "baseline": "middle", "font": "Liberation Sans", "fontSize": 8, "color": "#ffffff"}, "encoding": {"x": {"datum": 253.2, "type": "quantitative"}, "y": {"datum": 32925, "type": "quantitative", "axis": null}}},
{"data": {"values": [{}]}, "mark": {"type": "text", "text": "- 3.14%", "align": "center", "baseline": "middle", "font": "Liberation Sans", "fontSize": 8, "color": "#ffffff"}, "encoding": {"x": {"datum": 253.2, "type": "quantitative"}, "y": {"datum": 32300, "type": "quantitative", "axis": null}}},
{"data": {"values": [{}]}, "mark": {"type": "text", "text": "▼1,050", "align": "center", "baseline": "middle", "font": "Liberation Sans", "fontSize": 8, "color": "#ffffff"}, "encoding": {"x": {"datum": 253.2, "type": "quantitative"}, "y": {"datum": 31675, "type": "quantitative", "axis": null}}}
]
},
{
"width": 644, "height": 109,
"view": {"fill": "#c0c0c0", "stroke": "#202020"},
"resolve": {"axis": {"y": "independent"}},
"layer": [
{"data": {"name": "c"}, "mark": {"type": "bar", "size": 2},
 "encoding": {
  "x": {"field": "i", "type": "quantitative", "scale": {"domain": [-0.3, 245.1], "nice": false, "zero": false},
        "axis": {"values": [-0.3, 5, 27, 48, 68, 88, 110, 130, 149, 170, 191, 213, 234, 245.1], "title": null, "grid": true, "gridColor": "#dedede", "gridDash": [1, 2], "domain": false, "tickSize": 3, "labelPadding": 0, "labelFontSize": 8, "labelOverlap": false, "labelBound": false, "labelFlush": false,
                 "labelExpr": "datum.value < 0 ? '2016/10/25' : datum.value > 245 ? '2017/10/17' : datum.value == 5 ? '11' : datum.value == 27 ? '12' : datum.value == 48 ? '2017' : datum.value == 68 ? '02' : datum.value == 88 ? '03' : datum.value == 110 ? '04' : datum.value == 130 ? '05' : datum.value == 149 ? '06' : datum.value == 170 ? '07' : datum.value == 191 ? '08' : datum.value == 213 ? '09' : '10'",
                 "labelAlign": {"condition": {"test": "datum.value > 245", "value": "right"}, "value": "left"},
                 "labelOffset": {"condition": [{"test": "datum.value < 0", "value": -37}, {"test": "datum.value > 245", "value": 38}], "value": 1}}},
  "y": {"field": "v", "type": "quantitative", "scale": {"domain": [0, 1600000], "nice": false},
        "axis": {"orient": "left", "values": [250000, 500000, 750000, 1000000, 1250000, 1500000], "format": ",.0f", "title": null, "labelFontSize": 8, "tickSize": 2, "labelPadding": 0, "grid": true, "gridColor": "#d6d6d6", "gridDash": [1, 3], "domain": false}},
  "color": {"condition": {"test": "datum.c >= datum.o", "value": "#e0462e"}, "value": "#1c1c8c"}
 }},
{"data": {"values": [{}]}, "mark": {"type": "rule", "color": "#1c1c8c", "strokeDash": [2, 2], "strokeWidth": 1}, "encoding": {"x": {"datum": 231, "type": "quantitative"}, "y": {"datum": 1250000, "type": "quantitative", "axis": {"orient": "right", "values": [250000, 500000, 750000, 1000000, 1250000], "format": ",.0f", "title": null, "labelFontSize": 8, "tickSize": 2, "labelPadding": 0, "grid": false, "domain": false}}, "y2": {"datum": 0}}},
{"data": {"values": [{}]}, "mark": {"type": "rule", "color": "#d02020", "strokeDash": [3, 2], "strokeWidth": 1}, "encoding": {"x": {"datum": 47.5, "type": "quantitative"}}},
{"data": {"values": [{}]}, "mark": {"type": "rule", "color": "#2060c0", "strokeWidth": 2}, "encoding": {"x": {"datum": 245.1, "type": "quantitative"}}},
{"data": {"values": [{}]}, "mark": {"type": "text", "text": "0거래량(73,421)", "align": "left", "baseline": "top", "font": "Noto Sans CJK KR", "fontSize": 8, "color": "#000000"}, "encoding": {"x": {"datum": 0.6, "type": "quantitative"}, "y": {"datum": 1565000, "type": "quantitative", "axis": null}}},
{"data": {"values": [{}]}, "mark": {"type": "text", "text": "┌─1,383,652(2016/11/07)", "align": "left", "baseline": "top", "font": "DejaVu Sans", "fontSize": 8, "color": "#b01818"}, "encoding": {"x": {"datum": 8.7, "type": "quantitative"}, "y": {"datum": 1450000, "type": "quantitative", "axis": null}}},
{"data": {"values": [{}]}, "mark": {"type": "text", "text": "25,429(2017/09/27) --", "align": "right", "baseline": "top", "font": "Liberation Sans", "fontSize": 8.5, "color": "#1c1c7c"}, "encoding": {"x": {"datum": 230.6, "type": "quantitative"}, "y": {"datum": 1290000, "type": "quantitative", "axis": null}}},
{"data": {"values": [{}]}, "mark": {"type": "rect", "color": "#1c2f78"}, "encoding": {"x": {"datum": 246.4, "type": "quantitative"}, "x2": {"datum": 259.6}, "y": {"datum": 165000, "type": "quantitative", "axis": null}, "y2": {"datum": -10000}}},
{"data": {"values": [{}]}, "mark": {"type": "text", "text": "73,421", "align": "center", "baseline": "middle", "font": "Liberation Sans", "fontSize": 8.5, "color": "#ffffff"}, "encoding": {"x": {"datum": 253.2, "type": "quantitative"}, "y": {"datum": 77000, "type": "quantitative", "axis": null}}}
]
}
]
}
